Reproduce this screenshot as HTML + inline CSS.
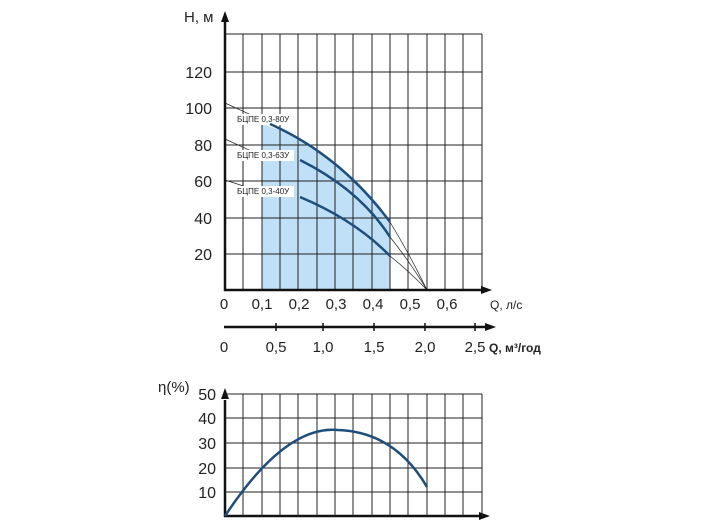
<!DOCTYPE html><html><head><style>body{margin:0;background:#fff}svg{display:block}text{font-family:"Liberation Sans",sans-serif;fill:#222}</style></head><body>
<svg width="704" height="528" xmlns="http://www.w3.org/2000/svg">
<polygon points="262,124 280,130 300,140 320,152 340,166 360,184 380,206 390,222 390,290 262,290" fill="#bfe0f6"/>
<g stroke="#222" stroke-width="1">
<line x1="243" y1="34" x2="243" y2="290"/><line x1="262" y1="34" x2="262" y2="290"/><line x1="280" y1="34" x2="280" y2="290"/><line x1="298" y1="34" x2="298" y2="290"/><line x1="317" y1="34" x2="317" y2="290"/><line x1="335" y1="34" x2="335" y2="290"/><line x1="353" y1="34" x2="353" y2="290"/><line x1="372" y1="34" x2="372" y2="290"/><line x1="390" y1="34" x2="390" y2="290"/><line x1="408" y1="34" x2="408" y2="290"/><line x1="427" y1="34" x2="427" y2="290"/><line x1="445" y1="34" x2="445" y2="290"/><line x1="463" y1="34" x2="463" y2="290"/><line x1="482" y1="34" x2="482" y2="290"/>
<line x1="225" y1="34" x2="482" y2="34"/><line x1="225" y1="72" x2="482" y2="72"/><line x1="225" y1="108" x2="482" y2="108"/><line x1="225" y1="145" x2="482" y2="145"/><line x1="225" y1="181" x2="482" y2="181"/><line x1="225" y1="218" x2="482" y2="218"/><line x1="225" y1="254" x2="482" y2="254"/>
</g>
<g stroke="#222" stroke-width="0.7" fill="none">
<path d="M390,222 Q410,255 427,290"/><path d="M390,237 Q410,262 427,290"/><path d="M390,256 Q410,272 427,290"/>
<path d="M225,103 L262,120"/><path d="M225,139 L262,156"/><path d="M225,180 L262,192"/>
</g>
<rect x="236" y="114" width="58" height="11" fill="#fff"/><rect x="236" y="150" width="58" height="11" fill="#fff"/><rect x="236" y="186" width="58" height="11" fill="#fff"/>
<g font-size="8"><text x="237" y="122">БЦПЕ 0,3-80У</text><text x="237" y="158">БЦПЕ 0,3-63У</text><text x="237" y="194">БЦПЕ 0,3-40У</text></g>
<g stroke="#1d4e7e" stroke-width="2.5" fill="none">
<path d="M270,124 Q340,155 390,222"/><path d="M300,160 Q360,190 390,237"/><path d="M300,197 Q355,220 390,256"/>
</g>
<g stroke="#111" stroke-width="2.5"><line x1="225" y1="20" x2="225" y2="291"/><line x1="224" y1="290" x2="482" y2="290"/><line x1="224" y1="327" x2="485" y2="327"/><line x1="225" y1="400" x2="225" y2="517"/><line x1="224" y1="516" x2="482" y2="516"/></g>
<g fill="#111"><polygon points="225,11 221,22 229,22"/><polygon points="492,290 481,286 481,294"/><polygon points="496,327 485,323 485,331"/><polygon points="225,388 221,399 229,399"/><polygon points="490,516 479,512 479,520"/></g>
<g stroke="#111" stroke-width="1.5"><line x1="276" y1="323" x2="276" y2="331"/><line x1="323" y1="323" x2="323" y2="331"/><line x1="374" y1="323" x2="374" y2="331"/><line x1="425" y1="323" x2="425" y2="331"/><line x1="475" y1="323" x2="475" y2="331"/></g>
<g font-size="16" text-anchor="end"><text x="212" y="78">120</text><text x="212" y="114">100</text><text x="212" y="151">80</text><text x="212" y="187">60</text><text x="212" y="224">40</text><text x="212" y="260">20</text></g>
<text x="184" y="22" font-size="15">Н, м</text>
<g font-size="15" text-anchor="middle"><text x="224" y="309">0</text><text x="262" y="309">0,1</text><text x="299" y="309">0,2</text><text x="336" y="309">0,3</text><text x="373" y="309">0,4</text><text x="410" y="309">0,5</text><text x="447" y="309">0,6</text>
<text x="224" y="352">0</text><text x="276" y="352">0,5</text><text x="323" y="352">1,0</text><text x="374" y="352">1,5</text><text x="425" y="352">2,0</text><text x="475" y="352">2,5</text></g>
<text x="490" y="309" font-size="12">Q, л/с</text>
<text x="489" y="352" font-size="12" font-weight="bold">Q, м³/год</text>
<g stroke="#222" stroke-width="1">
<line x1="243" y1="394" x2="243" y2="516"/><line x1="262" y1="394" x2="262" y2="516"/><line x1="280" y1="394" x2="280" y2="516"/><line x1="298" y1="394" x2="298" y2="516"/><line x1="317" y1="394" x2="317" y2="516"/><line x1="335" y1="394" x2="335" y2="516"/><line x1="353" y1="394" x2="353" y2="516"/><line x1="372" y1="394" x2="372" y2="516"/><line x1="390" y1="394" x2="390" y2="516"/><line x1="408" y1="394" x2="408" y2="516"/><line x1="427" y1="394" x2="427" y2="516"/><line x1="445" y1="394" x2="445" y2="516"/><line x1="463" y1="394" x2="463" y2="516"/><line x1="482" y1="394" x2="482" y2="516"/>
<line x1="225" y1="394" x2="482" y2="394"/><line x1="225" y1="418" x2="482" y2="418"/><line x1="225" y1="443" x2="482" y2="443"/><line x1="225" y1="468" x2="482" y2="468"/><line x1="225" y1="492" x2="482" y2="492"/>
</g>
<path d="M225,516 Q285,425 338,430 Q395,432 427,487" stroke="#1d4e7e" stroke-width="2.5" fill="none"/>
<g font-size="16" text-anchor="end"><text x="216" y="400">50</text><text x="216" y="424">40</text><text x="216" y="449">30</text><text x="216" y="474">20</text><text x="216" y="498">10</text></g>
<text x="158" y="392" font-size="15">η(%)</text>
</svg></body></html>
